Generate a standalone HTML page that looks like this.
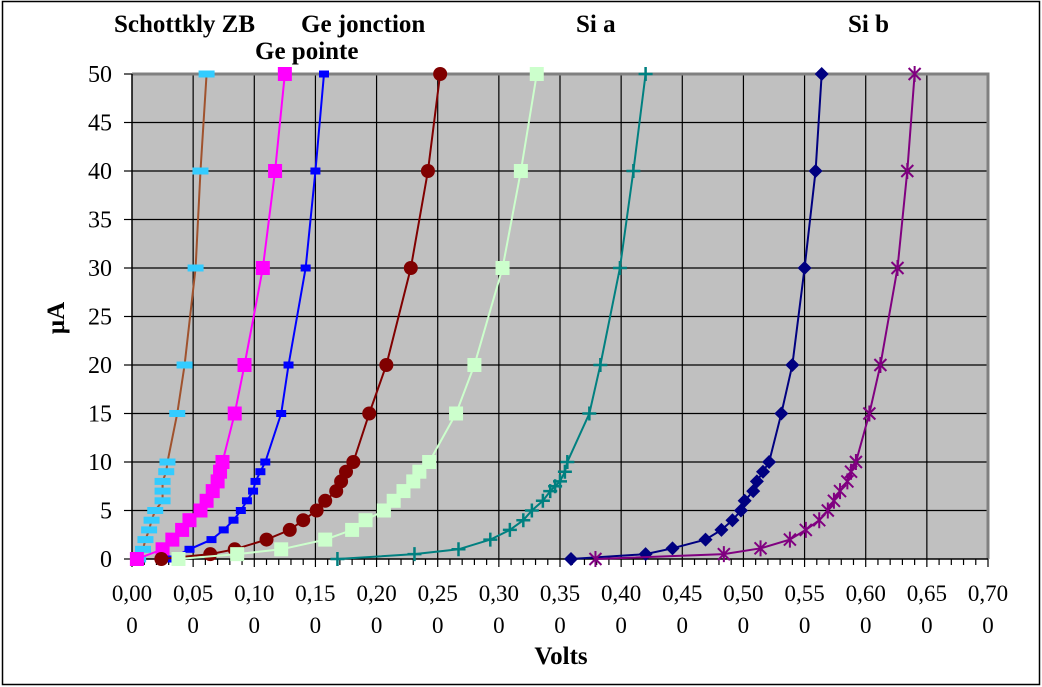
<!DOCTYPE html>
<html><head><meta charset="utf-8"><style>
html,body{margin:0;padding:0;background:#fff;}
svg{display:block;font-family:"Liberation Serif",serif;}
svg text{font-family:"Liberation Serif",serif;}
</style></head><body>
<svg id="chart" width="1042" height="687" viewBox="0 0 1042 687">
<rect x="2.5" y="1.5" width="1037" height="683" fill="#fff" stroke="#000" stroke-width="1.5"/>
<rect x="132" y="74" width="856" height="485" fill="#c0c0c0"/>
<g id="grid"></g>
<g id="axes"></g>
<g id="series"></g>
<g font-weight="bold" font-size="25" fill="#000">
<text x="114" y="32">Schottkly ZB</text>
<text x="301" y="32">Ge jonction</text>
<text x="255" y="59">Ge pointe</text>
<text x="576" y="32">Si a</text>
<text x="848" y="32">Si b</text>
</g>
<text x="561" y="664" font-weight="bold" font-size="25" text-anchor="middle">Volts</text>
<text transform="translate(64,318) rotate(-90)" font-weight="bold" font-size="25" text-anchor="middle">µA</text>
</svg>
<script>
const xTicks=[0,0.05,0.10,0.15,0.20,0.25,0.30,0.35,0.40,0.45,0.50,0.55,0.60,0.65,0.70];
const xTickLabels=["0,00","0,05","0,10","0,15","0,20","0,25","0,30","0,35","0,40","0,45","0,50","0,55","0,60","0,65","0,70"];
const yTicks=[0,5,10,15,20,25,30,35,40,45,50];
const schottkyV=[0.005,0.009,0.011,0.014,0.016,0.019,0.025,0.025,0.025,0.028,0.029,0.037,0.043,0.052,0.056,0.061];
const schottkyI=[0,1,2,3,4,5,6,7,8,9,10,15,20,30,40,50];
const gePointeV=[0.004,0.025,0.033,0.041,0.047,0.056,0.061,0.066,0.070,0.072,0.074,0.084,0.092,0.107,0.117,0.125];
const gePointeI=[0,1,2,3,4,5,6,7,8,9,10,15,20,30,40,50];
const geJonctionV=[0.031,0.047,0.065,0.075,0.083,0.089,0.094,0.099,0.101,0.105,0.109,0.122,0.128,0.142,0.150,0.157];
const geJonctionI=[0,1,2,3,4,5,6,7,8,9,10,15,20,30,40,50];
const redV=[0.024,0.064,0.084,0.110,0.129,0.140,0.151,0.158,0.167,0.171,0.175,0.181,0.194,0.208,0.228,0.242,0.252];
const redI=[0,0.5,1,2,3,4,5,6,7,8,9,10,15,20,30,40,50];
const greenV=[0.038,0.086,0.122,0.158,0.180,0.191,0.206,0.214,0.222,0.230,0.235,0.243,0.265,0.280,0.303,0.318,0.331];
const greenI=[0,0.5,1,2,3,4,5,6,7,8,9,10,15,20,30,40,50];
const siAV=[0.168,0.231,0.267,0.293,0.309,0.320,0.327,0.336,0.342,0.346,0.350,0.354,0.356,0.374,0.383,0.399,0.410,0.420];
const siAI=[0,0.5,1,2,3,4,5,6,7,7.5,8,9,10,15,20,30,40,50];
const navyV=[0.359,0.420,0.442,0.469,0.482,0.491,0.498,0.501,0.508,0.511,0.516,0.521,0.531,0.540,0.550,0.559,0.564];
const navyI=[0,0.5,1.1,2,3,4,5,6,7,8,9,10,15,20,30,40,50];
const siBV=[0.379,0.484,0.514,0.538,0.551,0.562,0.569,0.574,0.579,0.585,0.588,0.592,0.603,0.612,0.626,0.634,0.640];
const siBI=[0,0.5,1.1,2,3,4,5,6,7,8,9,10,15,20,30,40,50];

const NS="http://www.w3.org/2000/svg";
const X0=132,X1=988,Y0=559,Y1=74;
const xs=v=>X0+(v/0.7)*(X1-X0);
const ys=i=>Y0-(i/50)*(Y0-Y1);
function mk(tag,attrs,parent){const e=document.createElementNS(NS,tag);for(const k in attrs)e.setAttribute(k,attrs[k]);parent.appendChild(e);return e;}
const grid=document.getElementById('grid'),axes=document.getElementById('axes'),ser=document.getElementById('series');
yTicks.forEach(t=>{if(t>0&&t<50){const l=mk('line',{x1:X0,x2:X1,y1:ys(t),y2:ys(t),stroke:'#000','stroke-width':1.2},grid);}
 const tk=mk('line',{x1:X0-8,x2:X0,y1:ys(t),y2:ys(t),stroke:'#000','stroke-width':1.2},axes);
 const tx=mk('text',{x:112,y:ys(t)+8,'font-size':24,'text-anchor':'end'},axes);tx.textContent=t;});
xTicks.forEach((t,k)=>{if(t>0&&t<0.7){const l=mk('line',{x1:xs(t),x2:xs(t),y1:Y1,y2:Y0,stroke:'#000','stroke-width':1.2},grid);}
 const tx=mk('text',{x:xs(t),y:601,'font-size':23,'text-anchor':'middle'},axes);tx.textContent=xTickLabels[k];
 const t2=mk('text',{x:xs(t),y:633,'font-size':23,'text-anchor':'middle'},axes);t2.textContent='0';});
for(let m=0;m<=70;m++){const v=m/100;const major=m%5===0;const tk=mk('line',{x1:xs(v),x2:xs(v),y1:Y0,y2:Y0+(major?8:6),stroke:'#000','stroke-width':1.2},axes);}
let b=mk('path',{d:`M${X0} ${Y1}H${X1}V${Y0}`,fill:'none',stroke:'#808080','stroke-width':3},axes);
let ax=mk('line',{x1:X0,x2:X1,y1:Y0,y2:Y0,stroke:'#000','stroke-width':1.5},axes);
let ay=mk('line',{x1:X0,x2:X0,y1:Y1,y2:Y0,stroke:'#000','stroke-width':1.5},axes);

function marker(g,type,x,y,c){
 let e;
 if(type==='dash'){e=mk('rect',{x:x-8,y:y-3.5,width:16,height:7,fill:c},g);}
 else if(type==='sdash'){e=mk('rect',{x:x-5,y:y-3.5,width:10,height:7,fill:c},g);}
 else if(type==='square'){e=mk('rect',{x:x-7,y:y-7,width:14,height:14,fill:c},g);}
 else if(type==='circle'){e=mk('circle',{cx:x,cy:y,r:7,fill:c},g);}
 else if(type==='diamond'){e=mk('path',{d:`M${x} ${y-7}L${x+7} ${y}L${x} ${y+7}L${x-7} ${y}Z`,fill:c},g);}
 else if(type==='plus'){e=mk('path',{d:`M${x-7} ${y}H${x+7}M${x} ${y-7}V${y+7}`,stroke:c,'stroke-width':2.5},g);}
 else {e=mk('path',{d:`M${x-6} ${y-6}L${x+6} ${y+6}M${x+6} ${y-6}L${x-6} ${y+6}M${x} ${y-8}V${y+8}`,stroke:c,'stroke-width':2},g);}
 
 
}
const seriesList=[
 ['schottky-zb',schottkyV,schottkyI,'#a0522d','#33ccff','dash'],
 ['ge-pointe',gePointeV,gePointeI,'#ff00ff','#ff00ff','square'],
 ['ge-jonction',geJonctionV,geJonctionI,'#0000ff','#0000ff','sdash'],
 ['ge-red',redV,redI,'#800000','#800000','circle'],
 ['green',greenV,greenI,'#ccffcc','#ccffcc','square'],
 ['si-a',siAV,siAI,'#008080','#008080','plus'],
 ['navy',navyV,navyI,'#000080','#000080','diamond'],
 ['si-b',siBV,siBI,'#800080','#800080','star']];
seriesList.forEach(s=>{
 const g=mk('g',{},ser);
 
 
 const pts=s[1].map((v,i)=>xs(v)+','+ys(s[2][i])).join(' ');
 const pl=mk('polyline',{points:pts,fill:'none',stroke:s[3],'stroke-width':2},g);
 
 
 s[1].forEach((v,i)=>marker(g,s[5],xs(v),ys(s[2][i]),s[4]));
});
</script>
</body></html>
